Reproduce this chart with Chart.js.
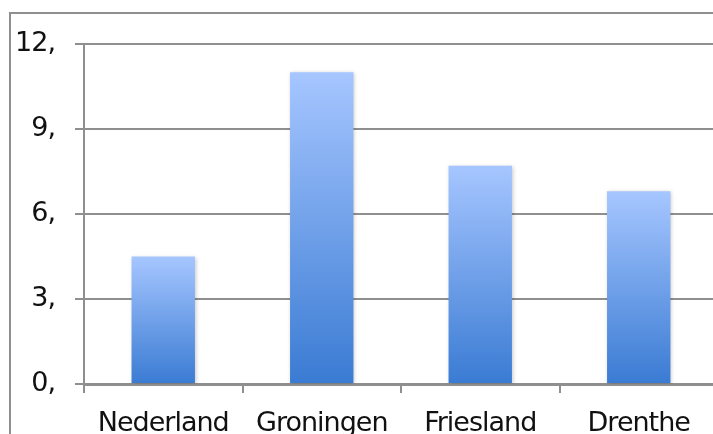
<!DOCTYPE html>
<html>
<head>
<meta charset="utf-8">
<script src="https://cdn.jsdelivr.net/npm/chart.js@4/dist/chart.umd.min.js"></script>
<style>
  html, body { margin: 0; padding: 0; width: 713px; height: 434px; overflow: hidden; background: #fff; }
  #frame { position: absolute; left: 9px; top: 12px; width: 800px; height: 500px;
           border-left: 2px solid #8f8f8f; border-top: 2px solid #8f8f8f; }
  #wrap { position: absolute; left: 0; top: 0; width: 725px; height: 434px; }
</style>
</head>
<body>
<div id="frame"></div>
<div id="wrap"><canvas id="c" width="725" height="434"></canvas></div>
<script>
const categories = ["Nederland", "Groningen", "Friesland", "Drenthe"];
const values = [4.5, 11.0, 7.7, 6.8];
const yTicks = [0, 3, 6, 9, 12];

const spacingPlugin = {
  id: 'tightText',
  beforeUpdate(chart) { chart.ctx.letterSpacing = '-1px'; },
  beforeDraw(chart) { chart.ctx.letterSpacing = '-1px'; }
};

const shadowPlugin = {
  id: 'barShadow',
  beforeDatasetsDraw(chart) {
    const ctx = chart.ctx;
    ctx.save();
    ctx.shadowColor = 'rgba(0,0,0,0.22)';
    ctx.shadowBlur = 4;
    ctx.shadowOffsetX = 1;
    ctx.shadowOffsetY = 1;
  },
  afterDatasetsDraw(chart) { chart.ctx.restore(); }
};

function barGradient(context) {
  const chart = context.chart;
  const y = chart.scales.y;
  if (!y || context.raw === undefined) return '#6a9ae6';
  const top = y.getPixelForValue(context.raw);
  const base = y.getPixelForValue(0);
  if (!isFinite(top) || !isFinite(base) || top === base) return '#6a9ae6';
  const g = chart.ctx.createLinearGradient(0, top, 0, base);
  g.addColorStop(0, '#a6c6ff');
  g.addColorStop(1, '#3a7bd3');
  return g;
}

new Chart(document.getElementById('c'), {
  type: 'bar',
  data: {
    labels: categories,
    datasets: [{
      data: values,
      backgroundColor: barGradient,
      borderWidth: 0,
      barPercentage: 0.4,
      categoryPercentage: 1.0
    }]
  },
  options: {
    responsive: false,
    animation: false,
    layout: { padding: { top: 44, right: 7, bottom: 0, left: 0 } },
    plugins: { legend: { display: false }, tooltip: { enabled: false } },
    scales: {
      x: {
        afterFit(s) { s.height = 50; },
        grid: { display: true, drawOnChartArea: false, drawTicks: true, tickLength: 9, offset: true, color: '#8f8f8f', lineWidth: 2 },
        border: { display: true, color: '#8f8f8f', width: 3 },
        ticks: { color: '#111', padding: 15, font: { family: 'DejaVu Sans', size: 27 }, maxRotation: 0, autoSkip: false }
      },
      y: {
        min: yTicks[0],
        max: yTicks[yTicks.length - 1],
        afterFit(s) { s.width = 84; },
        afterBuildTicks(s) { s.ticks = yTicks.map(v => ({ value: v })); },
        grid: { color: '#8f8f8f', lineWidth: 2, tickLength: 9, drawTicks: true },
        border: { display: true, color: '#8f8f8f', width: 2 },
        ticks: { color: '#111', padding: 20, font: { family: 'DejaVu Sans', size: 27 }, callback: v => v + ',' }
      }
    }
  },
  plugins: [spacingPlugin, shadowPlugin]
});
</script>
</body>
</html>
